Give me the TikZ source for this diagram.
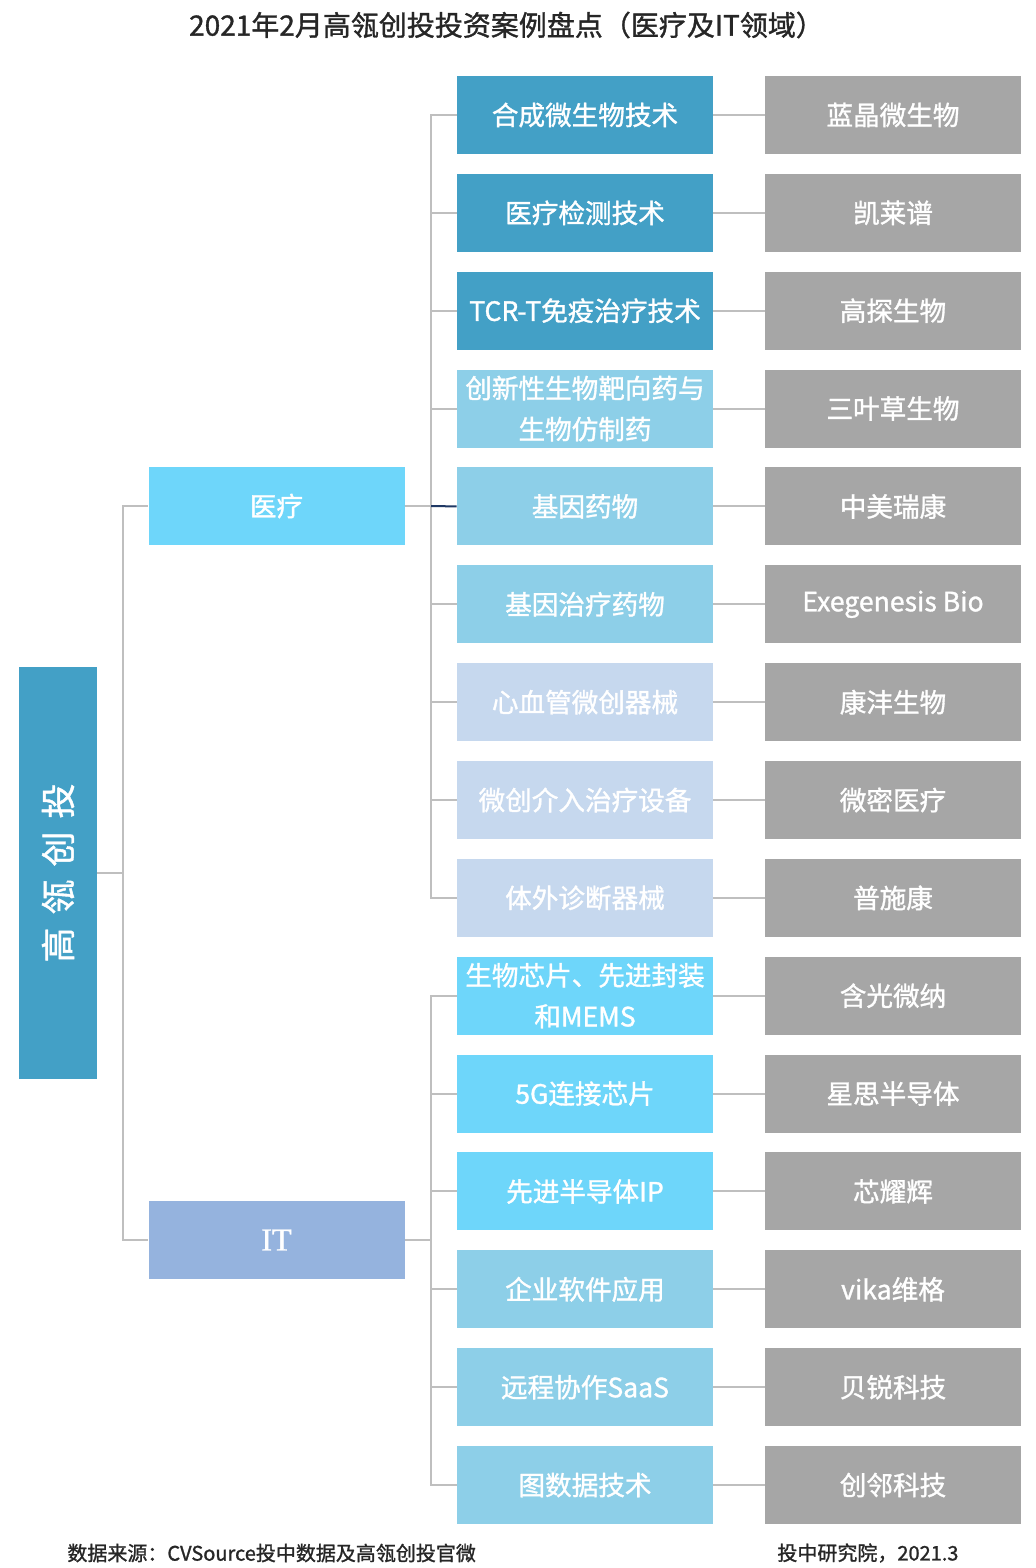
\documentclass[tikz,border=0pt]{standalone}
\usepackage{fontspec}
\setmainfont{Noto Sans CJK SC}
\newfontfamily\boxfont{Noto Sans CJK SC}[FakeBold=1.2]
\newfontfamily\itfont{Liberation Serif}[FakeBold=1.2]
\usepackage{tikz}
\usetikzlibrary{positioning}
\definecolor{deepblue}{RGB}{67,160,198}
\definecolor{skyblue}{RGB}{110,214,250}
\definecolor{paleblue}{RGB}{141,207,232}
\definecolor{mistblue}{RGB}{198,216,238}
\definecolor{itblue}{RGB}{149,179,222}
\definecolor{firmgray}{RGB}{166,166,166}
\definecolor{linegray}{RGB}{191,191,191}
\definecolor{navyline}{RGB}{31,56,100}
\definecolor{darktext}{RGB}{38,38,38}

\begin{document}
\begin{tikzpicture}[x=0.5pt, y=-0.5pt, node distance=48.93pt]
\tikzstyle{techbox} = [rectangle, minimum width=128pt, minimum height=39pt, inner sep=0pt, text centered, align=center, text=white, font=\boxfont\fontsize{13.3}{20.5}\selectfont]
\tikzstyle{firmbox} = [techbox, fill=firmgray, node distance=154pt]
\tikzstyle{groupbox} = [techbox]
\tikzstyle{rootbox} = [rectangle, minimum width=39pt, minimum height=206pt, inner sep=0pt, fill=deepblue, text=white, font=\boxfont\fontsize{17.5}{20}\selectfont]
\tikzstyle{link} = [draw=linegray, line width=1pt]

\path[fill=white] (0,0) rectangle (1036,1568);

\node (title) at (506.5,25) [text=darktext, font=\boxfont\fontsize{14}{16}\selectfont] {2021年2月高瓴创投投资案例盘点（医疗及IT领域）};

\node (root) [rootbox] at (58,873) {\rotatebox{90}{高\hspace{6.5pt}瓴\hspace{6.5pt}创\hspace{6.5pt}投}};
\node (med) [groupbox, fill=skyblue] at (276.5,506) {医疗};
\node (it) [groupbox, fill=itblue, font=\itfont\fontsize{16}{16}\selectfont] at (276.5,1240) {IT};

\node (t1) [techbox, fill=deepblue] at (585,115) {合成微生物技术};
\node (t2) [techbox, fill=deepblue, below of=t1] {医疗检测技术};
\node (t3) [techbox, fill=deepblue, below of=t2] {TCR-T免疫治疗技术};
\node (t4) [techbox, fill=paleblue, below of=t3] {创新性生物靶向药与\\生物仿制药};
\node (t5) [techbox, fill=paleblue, below of=t4] {基因药物};
\node (t6) [techbox, fill=paleblue, below of=t5] {基因治疗药物};
\node (t7) [techbox, fill=mistblue, below of=t6] {心血管微创器械};
\node (t8) [techbox, fill=mistblue, below of=t7] {微创介入治疗设备};
\node (t9) [techbox, fill=mistblue, below of=t8] {体外诊断器械};
\node (t10) [techbox, fill=skyblue, below of=t9] {生物芯片、先进封装\\和MEMS};
\node (t11) [techbox, fill=skyblue, below of=t10] {5G连接芯片};
\node (t12) [techbox, fill=skyblue, below of=t11] {先进半导体IP};
\node (t13) [techbox, fill=paleblue, below of=t12] {企业软件应用};
\node (t14) [techbox, fill=paleblue, below of=t13] {远程协作SaaS};
\node (t15) [techbox, fill=paleblue, below of=t14] {图数据技术};

\node (c1) [firmbox, right of=t1] {蓝晶微生物};
\node (c2) [firmbox, right of=t2] {凯莱谱};
\node (c3) [firmbox, right of=t3] {高探生物};
\node (c4) [firmbox, right of=t4] {三叶草生物};
\node (c5) [firmbox, right of=t5] {中美瑞康};
\node (c6) [firmbox, right of=t6] {Exegenesis Bio};
\node (c7) [firmbox, right of=t7] {康沣生物};
\node (c8) [firmbox, right of=t8] {微密医疗};
\node (c9) [firmbox, right of=t9] {普施康};
\node (c10) [firmbox, right of=t10] {含光微纳};
\node (c11) [firmbox, right of=t11] {星思半导体};
\node (c12) [firmbox, right of=t12] {芯耀辉};
\node (c13) [firmbox, right of=t13] {vika维格};
\node (c14) [firmbox, right of=t14] {贝锐科技};
\node (c15) [firmbox, right of=t15] {创邻科技};

% tree lines
\draw [link] (root.east) -- ++(26,0) |- (med.west);
\draw [link] (root.east) -- ++(26,0) |- (it.west);

\draw [link] (med.east) -- ++(26,0) |- (t1.west);
\draw [link] (med.east) -- ++(26,0) |- (t2.west);
\draw [link] (med.east) -- ++(26,0) |- (t3.west);
\draw [link] (med.east) -- ++(26,0) |- (t4.west);
\draw [link] (med.east) -- ++(26,0) |- (t6.west);
\draw [link] (med.east) -- ++(26,0) |- (t7.west);
\draw [link] (med.east) -- ++(26,0) |- (t8.west);
\draw [link] (med.east) -- ++(26,0) |- (t9.west);
\coordinate (medfork) at (431,506);
\draw [link] (med.east) -- (medfork);
\draw [link, draw=navyline] (medfork) -- (t5.west);

\draw [link] (it.east) -- ++(26,0) |- (t10.west);
\draw [link] (it.east) -- ++(26,0) |- (t11.west);
\draw [link] (it.east) -- ++(26,0) |- (t12.west);
\draw [link] (it.east) -- ++(26,0) |- (t13.west);
\draw [link] (it.east) -- ++(26,0) |- (t14.west);
\draw [link] (it.east) -- ++(26,0) |- (t15.west);

\draw [link] (t1.east) -- (c1.west);
\draw [link] (t2.east) -- (c2.west);
\draw [link] (t3.east) -- (c3.west);
\draw [link] (t4.east) -- (c4.west);
\draw [link] (t5.east) -- (c5.west);
\draw [link] (t6.east) -- (c6.west);
\draw [link] (t7.east) -- (c7.west);
\draw [link] (t8.east) -- (c8.west);
\draw [link] (t9.east) -- (c9.west);
\draw [link] (t10.east) -- (c10.west);
\draw [link] (t11.east) -- (c11.west);
\draw [link] (t12.east) -- (c12.west);
\draw [link] (t13.east) -- (c13.west);
\draw [link] (t14.east) -- (c14.west);
\draw [link] (t15.east) -- (c15.west);

\node (source) [anchor=west, inner sep=0pt, text=darktext, font=\boxfont\fontsize{10}{12}\selectfont] at (67,1553) {数据来源：CVSource投中数据及高瓴创投官微};
\node (stamp) [anchor=west, inner sep=0pt, text=darktext, font=\boxfont\fontsize{10}{12}\selectfont] at (777,1553) {投中研究院，2021.3};
\end{tikzpicture}
\end{document}
